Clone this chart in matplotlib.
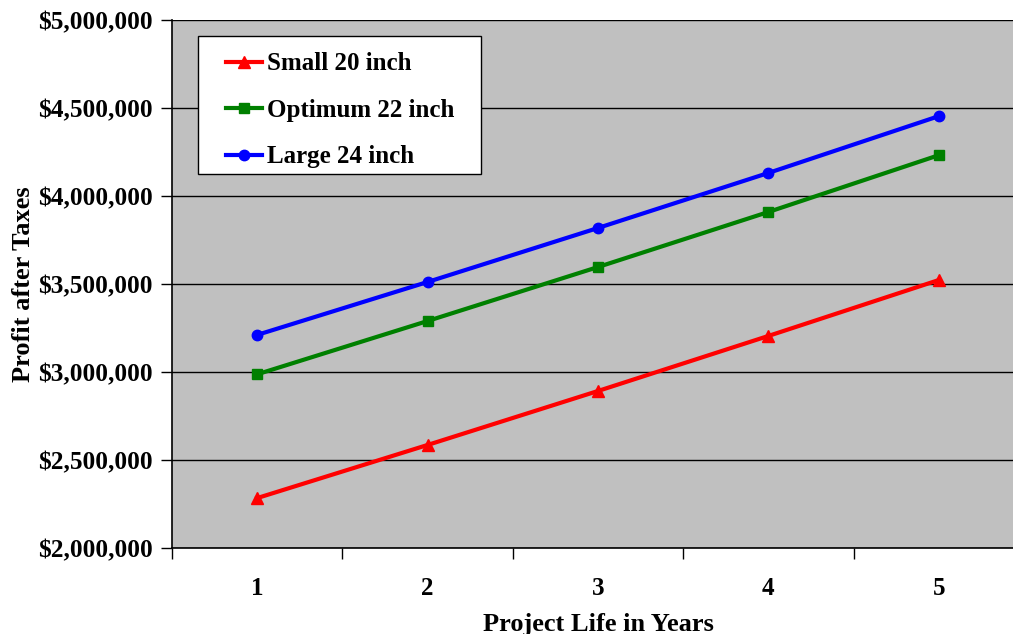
import matplotlib
matplotlib.use("Agg")
import matplotlib.pyplot as plt
from matplotlib.patches import Rectangle
from matplotlib.ticker import FuncFormatter, FixedLocator

years = [1, 2, 3, 4, 5]
small_20 = [2284000, 2586000, 2893000, 3206000, 3524000]
optimum_22 = [2988000, 3291000, 3598000, 3911000, 4234000]
large_24 = [3212000, 3513000, 3820000, 4133000, 4456000]
series_labels = ["Small 20 inch", "Optimum 22 inch", "Large 24 inch"]
y_ticks = [2000000, 2500000, 3000000, 3500000, 4000000, 4500000, 5000000]

plt.rcParams['font.family'] = ['Liberation Serif', 'DejaVu Serif']
plt.rcParams['font.weight'] = 'bold'

W, H = 1013, 634
fig = plt.figure(figsize=(W / 100, H / 100), dpi=100)
left, right, top, bottom = 172, 1024, 20.5, 548
ax = fig.add_axes([left / W, 1 - bottom / H, (right - left) / W, (bottom - top) / H])
ax.set_facecolor('#C0C0C0')

x = [y - 0.5 for y in years]
ax.plot(x, small_20, color='#FF0000', lw=3.0, marker='^', ms=8, label=series_labels[0], clip_on=False)
ax.plot(x, optimum_22, color='#008000', lw=3.0, marker='s', ms=7, label=series_labels[1], clip_on=False)
ax.plot(x, large_24, color='#0000FF', lw=3.0, marker='o', ms=7.5, label=series_labels[2], clip_on=False)

ax.set_xlim(0, 5)
ax.set_ylim(2000000, 5000000)
ax.set_yticks(y_ticks)
ax.yaxis.set_major_formatter(FuncFormatter(lambda v, p: "${:,.0f}".format(v)))
ax.xaxis.set_major_locator(FixedLocator([0, 1, 2, 3, 4, 5]))
ax.xaxis.set_major_formatter(FuncFormatter(lambda v, p: ""))
ax.xaxis.set_minor_locator(FixedLocator(x))
ax.xaxis.set_minor_formatter(FuncFormatter(lambda v, p: "%d" % round(v + 0.5)))
ax.tick_params(axis='x', which='minor', length=0, pad=21, labelsize=18)
ax.tick_params(axis='x', which='major', length=8, width=1, color='black', direction='out')
ax.tick_params(axis='y', which='major', length=8, width=1, color='black', direction='out', labelsize=18.3, pad=6)
for lbl in ax.get_xticklabels(minor=True) + ax.get_yticklabels():
    lbl.set_fontweight('bold')

ax.grid(axis='y', color='black', lw=1)
ax.set_axisbelow(True)
for s in ['top', 'right']:
    ax.spines[s].set_visible(False)
ax.spines['left'].set_linewidth(1.2)
ax.spines['bottom'].set_linewidth(1.2)

ax.set_xlabel("Project Life in Years", fontsize=19, fontweight='bold', labelpad=9)
ax.set_ylabel("Profit after Taxes", fontsize=19, fontweight='bold', labelpad=2)

aw, ah = right - left, bottom - top
# legend frame
ax.add_patch(Rectangle(((198 - left) / aw, (bottom - 174) / ah), (481 - 198) / aw, (174 - 36) / ah,
                       transform=ax.transAxes, facecolor='white', edgecolor='black', lw=1, zorder=4))
leg = ax.legend(loc='upper left', bbox_to_anchor=((226 - left) / aw, (bottom - 52.5) / ah),
                borderaxespad=0, borderpad=0, fontsize=18, frameon=False,
                handlelength=1.45, handletextpad=0.2, labelspacing=0.94)
leg.set_zorder(5)
for t in leg.get_texts():
    t.set_fontweight('bold')

fig.savefig("out.png", dpi=100)
